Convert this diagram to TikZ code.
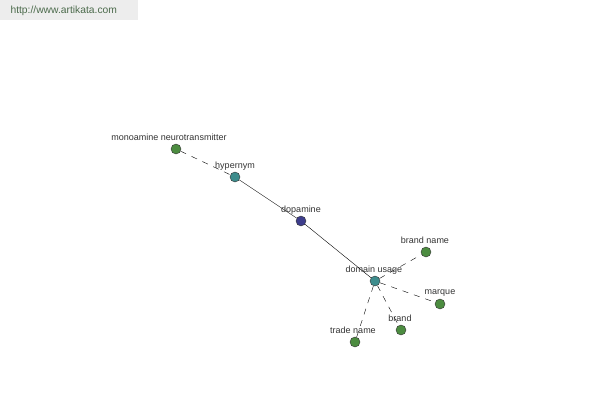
\documentclass[tikz,border=0pt]{standalone}
\usepackage{fontspec}
\setmainfont{Liberation Sans}
\usepackage{xcolor}
\definecolor{leaf}{rgb}{0.30,0.55,0.25}
\definecolor{link}{rgb}{0.24,0.55,0.55}
\definecolor{root}{rgb}{0.24,0.24,0.55}
\definecolor{stamp}{rgb}{0.30,0.42,0.30}
\usetikzlibrary{positioning}
\tikzset{
  word/.style   ={ circle, draw=black!80, thin, inner sep=0pt, minimum size=10pt },
  leafword/.style={ word, fill=leaf },
  linkword/.style={ word, fill=link },
  rootword/.style={ word, fill=root },
  tag/.style    ={ font=\fontsize{9}{10}\selectfont, text=black!80, inner sep=1pt },
%
  rel/.style ={ draw=black, thin },
  drel/.style={ draw=black, thin, dash pattern=on 6pt off 6pt }
}

\begin{document}
\begin{tikzpicture}[x=1pt,y=-1pt]
        \useasboundingbox (0,0) rectangle (600,400);
        \fill[black!7] (0,0) rectangle (138,20);
        \node[font=\fontsize{10.3}{11}\selectfont, text=stamp, anchor=west] (site) at (7,11) {http://www.artikata.com};
        \node[leafword] (mono) at (176,149) {};
        \node[linkword] (hyper) at (235,177) {};
        \node[rootword] (dopa) at (301,221) {};
        \node[linkword] (dom) at (375,281) {};
        \node[leafword] (bname) at (426,252) {};
        \node[leafword] (marque) at (440,304) {};
        \node[leafword] (brand) at (401,330) {};
        \node[leafword] (tname) at (355,342) {};
        \node[tag] at (169,137) {monoamine neurotransmitter};
        \node[tag] at (235,166) {hypernym};
        \node[tag] at (301,210) {dopamine};
        \node[tag] at (374,270) {domain usage};
        \node[tag] at (425,240) {brand name};
        \node[tag] at (440,293) {marque};
        \node[tag] at (400,318) {brand};
        \node[tag] at (353,330) {trade name};
        \draw[drel] (mono) -- (hyper);
        \draw[rel] (hyper) -- (dopa);
        \draw[rel] (dopa) -- (dom);
        \draw[drel] (dom) -- (bname);
        \draw[drel] (dom) -- (marque);
        \draw[drel] (dom) -- (brand);
        \draw[drel] (dom) -- (tname);
      \end{tikzpicture}
\end{document}
